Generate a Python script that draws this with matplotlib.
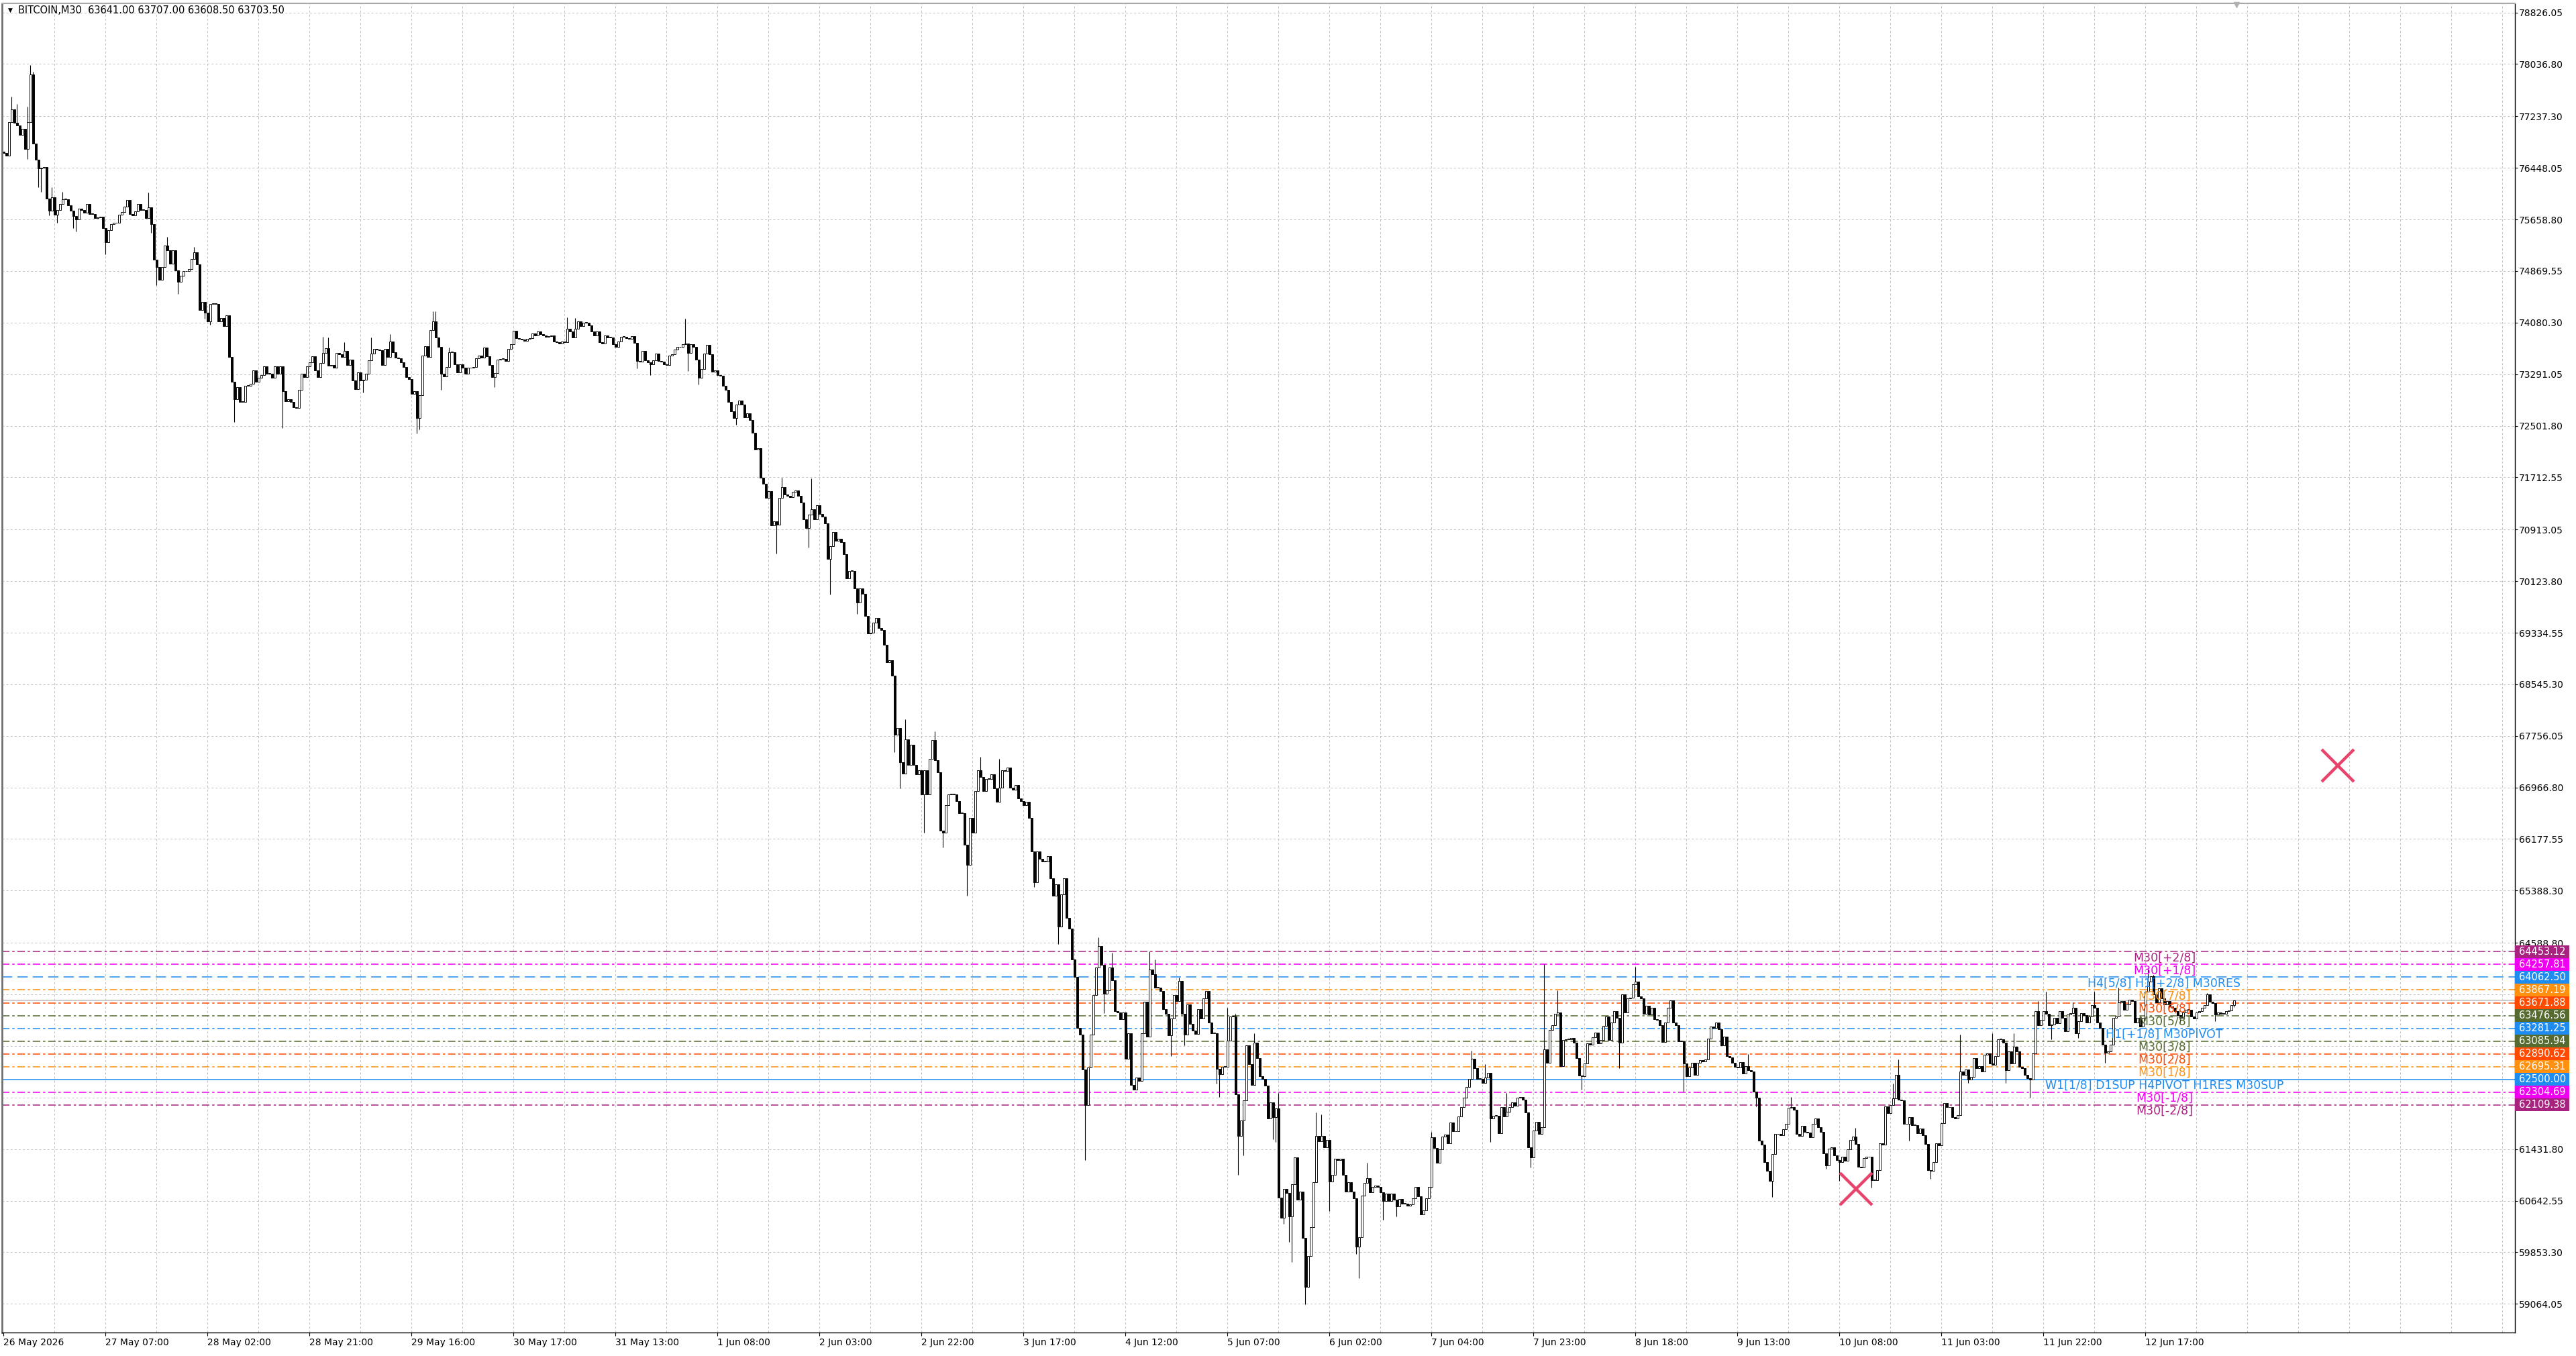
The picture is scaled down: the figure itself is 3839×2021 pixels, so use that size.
import numpy as np
import matplotlib
matplotlib.use("Agg")
import matplotlib.pyplot as plt
from matplotlib.patches import Rectangle
import matplotlib.transforms as mtransforms

plt.rcParams['font.family'] = ['DejaVu Sans']
plt.rcParams['lines.scale_dashes'] = False

# ---------------- data ----------------
symbol_header = "BITCOIN,M30  63641.00 63707.00 63608.50 63703.50"

first_open = 76700.0
closes = [
 76680,76640,77145,77347,77137,77100,76950,77043,76740,77145,77875,76820,76577,76435,76450,76460,
 75977,75795,75997,75735,75807,75896,75969,75969,75875,75795,75706,75657,75827,75807,75760,75896,
 75746,75742,75677,75693,75705,75531,75313,75491,75584,75612,75604,75734,75775,75856,75961,75746,
 75718,75787,75896,75807,75807,75677,75840,75584,75045,74935,74740,74935,75260,75187,74984,75187,
 74883,74704,74793,74866,74866,74895,75057,75159,74976,74275,74397,74234,74104,74368,74368,74368,
 74096,74152,74023,74193,73557,73180,72908,73091,72868,72868,73111,73111,73140,73354,73172,73233,
 73273,73415,73302,73302,73233,73415,73300,73415,73030,72880,72908,72868,72787,72775,73050,73302,
 73245,73415,73476,73570,73354,73245,73464,73618,73691,73424,73436,73395,73618,73600,73557,73650,
 73436,73517,73200,73059,73314,73193,
 73205,73300,73499,73608,73677,73670,73660,73435,73677,73557,73796,73625,73540,73533,73471,73396,
 73249,73215,72986,73027,72623,72966,73574,73721,73557,73961,74094,73854,73704,73294,73260,73396,
 73625,73625,73444,73317,73437,73386,73294,73386,73386,73403,73533,73574,73547,73694,73567,73430,
 73249,73307,73512,73523,73523,73489,73677,73745,73957,73841,73830,73820,73806,73830,73841,73916,
 73882,73943,73899,73882,73865,73875,73882,73796,73779,73762,73786,73779,73991,73943,73854,73984,
 74104,74026,74080,74080,74036,73943,73882,73943,73779,73762,73882,73854,73854,73752,73704,73796,
 73865,73865,73841,73830,73875,73772,73489,73480,73649,73506,73470,73437,73506,73608,73489,73478,
 73437,73430,73574,73591,73670,73704,73704,73752,73762,73615,73745,73704,73513,73232,73369,73608,
 73738,73591,73328,73352,73273,73266,73112,73054,72863,72719,72623,72822,72890,72829,72634,72692,
 72589,72394,72138,72155,71710,71618,71403,71505,70982,71037,70992,
 71398,71560,71445,71425,71412,71493,71513,71425,71331,71075,70940,71142,71223,71075,71290,71156,
 71108,71007,70468,70657,70873,70738,70771,70724,70536,70165,70279,70279,70010,69794,70010,69929,
 69592,69322,69335,69490,69558,69403,69376,69154,68884,68918,68682,67772,67872,67353,67179,67704,
 67313,67623,67313,67165,67233,66862,67233,66862,67401,67691,67380,67199,66303,66276,66694,66862,
 66862,66862,66761,66572,66572,66087,65784,66505,66276,66910,67233,67132,66910,67098,67098,67165,
 66950,66748,66963,67233,67220,67266,66963,66930,67003,66795,66761,66694,66748,66505,65986,65514,
 65986,65871,65831,65831,65918,65581,65312,65480,64840,65332,65581,64974,64806,64334,64065,63290,
 63189,62650,62111,62684,63189,63795,64213,64536,64253,63808,63862,64213,64011,63539,63520,63425,
 63526,62818,63202,62414,62347,
 62527,62472,63206,63683,63151,64178,64105,63903,63903,63848,63573,63499,63169,63426,63785,63701,
 64006,63499,63187,63646,63353,63243,63198,63573,63426,63738,63848,63371,63206,63206,62656,62582,
 62692,62692,63096,63463,63463,62271,61629,61867,62179,63022,62729,62417,63059,62821,62546,62509,
 62399,61904,62142,61922,62050,60693,60381,60821,60766,60399,60894,61305,60656,60784,60070,59325,
 59795,60235,60924,61636,61555,61636,61463,61573,60932,61042,61280,61262,61280,61042,60784,60924,
 60784,60675,59941,60088,60719,60913,60987,60767,60850,60877,60858,60767,60638,60748,60638,60748,
 60656,60557,60667,60601,60601,60565,60583,60682,60858,60711,60436,60498,60682,60858,61610,61445,
 61225,61427,61621,61658,61519,61841,61702,61702,61929,62076,62216,62380,62502,62810,62674,62509,
 62509,62443,62527,62601,61904,61940,61940,
 61678,62072,61935,62004,62072,62148,62100,62216,62226,62192,61997,61462,61301,61712,61850,61661,
 61771,62963,62751,63254,63333,63504,63518,62706,63100,63117,63117,63134,63066,62826,62559,62552,
 62740,63049,63032,63141,63220,63049,63100,63313,63460,63100,63374,63539,63443,63066,63802,63528,
 63734,63751,63956,63991,63768,63740,63504,63621,63494,63597,63425,63415,63323,63073,63367,63597,
 63710,63367,63333,63083,63083,62740,62552,62682,62757,62569,62757,62792,62774,62809,63127,63306,
 63289,63374,63271,63025,63152,62860,62833,62757,62689,62682,62764,62586,62706,62638,62620,62312,
 62216,61558,61497,61233,61096,60942,61353,61661,61661,61644,61736,61815,62065,62079,62038,61668,
 61634,61791,61695,61680,61610,61815,61901,61771,61695,61370,61181,61438,61455,61335,61267,61233,
 61318,61250,61428,61575,61627,61507,61164,
 61147,61291,61312,61318,60959,60959,61113,61524,61500,62090,61985,62106,62209,62569,62192,62175,
 61815,61815,61918,61798,61800,61678,61747,61644,61507,61113,61096,61233,61524,61490,61832,62141,
 62072,62072,61918,61901,61952,62620,62569,62655,62500,62535,62826,62672,62706,62620,62877,62894,
 62740,62723,62860,63117,63117,63066,62638,62929,62740,63004,62929,62689,62672,62569,62520,62500,
 62894,63546,63323,63408,63539,63504,63323,63340,63443,63357,63539,63443,63237,63494,63511,63597,
 63203,63391,63511,63477,63374,63460,63631,63597,63374,63288,63031,62912,62929,63031,63443,63460,
 63682,63700,63563,63648,63717,63700,63374,63443,63306,63443,63837,63991,64076,63802,63682,63888,
 63734,63648,63700,63614,63597,63539,63477,63443,63528,63563,63563,63460,63426,63518,63539,63597,
 63641,63802,63689,63665,63494,63518,63504,63504,63539,63552,63641,63703.5,
]

wick_highs = {3: 77542, 5: 77429, 9: 77388, 10: 78017, 11: 77915, 18: 76152, 22: 76078, 54: 76070,
              61: 75394, 71: 75240, 119: 73861, 121: 73850, 127: 73780, 137: 73848, 144: 73900,
              160: 74251, 161: 74251, 166: 73700, 210: 74162, 213: 74150, 254: 74138, 290: 71710,
              301: 71695, 336: 68008, 347: 67826, 364: 67435, 371: 67400, 408: 64672, 413: 64436,
              427: 64453, 429: 64336, 438: 64057, 456: 63591, 459: 63499, 466: 63206, 475: 62289,
              489: 61989, 491: 61959, 508: 61225, 532: 61700, 547: 62942, 552: 62736, 560: 62289,
              574: 64258, 579: 63861, 608: 64224, 650: 62888, 666: 62226, 690: 61757, 704: 62432,
              706: 62809, 729: 63186, 741: 63203, 749: 63200, 758: 63700, 761: 63837, 771: 63682,
              779: 63837, 788: 63905, 799: 64196, 801: 64094, 821: 63820, 831: 63707}
wick_lows = {9: 76585, 13: 76152, 14: 76082, 17: 75718, 20: 75612, 26: 75531, 27: 75474, 38: 75126,
             55: 75450, 57: 74652, 65: 74518, 75: 74145, 77: 74043, 86: 72555, 104: 72462, 134: 73010,
             154: 72384, 155: 72450, 163: 73054, 183: 73089, 236: 73376, 241: 73273, 255: 73335,
             259: 73130, 273: 72514, 286: 71266, 288: 70547, 300: 70637, 308: 69915, 318: 69626,
             332: 67503, 334: 66950, 343: 66276, 350: 66054, 359: 65312, 384: 65447, 393: 64570,
             403: 61268, 410: 63513, 435: 62857, 440: 63023, 452: 62436, 453: 62234, 460: 61042,
             462: 61335, 473: 61585, 474: 61537, 477: 60290, 479: 60007, 480: 59703, 485: 59061,
             494: 60484, 504: 59831, 505: 59457, 514: 60352, 519: 60400, 554: 61537, 569: 61147,
             588: 62339, 602: 62672, 626: 62312, 653: 62089, 657: 61106, 659: 60702, 679: 61130,
             684: 60942, 696: 60839, 710: 61558, 718: 60976, 732: 62449, 746: 62449, 755: 62216,
             763: 63117, 773: 63134, 783: 62757, 811: 63374, 824: 63391, 831: 63608.5}

time_labels = ["26 May 2026", "27 May 07:00", "28 May 02:00", "28 May 21:00", "29 May 16:00",
               "30 May 17:00", "31 May 13:00", "1 Jun 08:00", "2 Jun 03:00", "2 Jun 22:00",
               "3 Jun 17:00", "4 Jun 12:00", "5 Jun 07:00", "6 Jun 02:00", "7 Jun 04:00",
               "7 Jun 23:00", "8 Jun 18:00", "9 Jun 13:00", "10 Jun 08:00", "11 Jun 03:00",
               "11 Jun 22:00", "12 Jun 17:00"]
bars_per_label = 38
bars_per_grid = 19

price_ticks = [78826.05, 78036.80, 77237.30, 76448.05, 75658.80, 74869.55, 74080.30, 73291.05,
               72501.80, 71712.55, 70913.05, 70123.80, 69334.55, 68545.30, 67756.05, 66966.80,
               66177.55, 65388.30, 64588.80, 63799.55, 63010.30, 62221.05, 61431.80, 60642.55,
               59853.30, 59064.05]

levels = [64453.12, 64257.81, 64062.50, 63867.19, 63671.88, 63476.56, 63281.25, 63085.94,
          62890.62, 62695.31, 62500.00, 62304.69, 62109.38]
level_names = ["M30[+2/8]", "M30[+1/8]", "H4[5/8] H1[+2/8] M30RES", "M30[7/8]", "M30[6/8]",
               "M30[5/8]", "H1[+1/8] M30PIVOT", "M30[3/8]", "M30[2/8]", "M30[1/8]",
               "W1[1/8] D1SUP H4PIVOT H1RES M30SUP", "M30[-1/8]", "M30[-2/8]"]
level_colors = ["#A8237F", "#F000F0", "#1E8CF0", "#FF9010", "#FF4A00", "#556B2F", "#1E8CF0",
                "#556B2F", "#FF4A00", "#FF9010", "#1E8CF0", "#F000F0", "#A8237F"]
level_kinds = ["dashdot", "dashdot", "dash", "dashdot", "dashdot", "dashdot", "dashdot",
               "dashdot", "dashdot", "dashdot", "solid", "dashdot", "dashdot"]
level_label_bar = 805

current_price = 63703.50
cross_marks_x = [869.7, 690.2]
cross_marks_y = [67300.0, 60820.0]
shift_marker_bar = 832

# ---------------- figure ----------------
W, H, DPI = 3839, 2021, 100
fig = plt.figure(figsize=(W / DPI, H / DPI), dpi=DPI, facecolor="white")
left_px, right_px, top_px, bottom_px = 3, 3748, 5, 1986
ax = fig.add_axes([left_px / W, 1 - bottom_px / H, (right_px - left_px) / W, (bottom_px - top_px) / H])
ax.set_facecolor("white")

n = len(closes)
x = np.arange(n)
c = np.array(closes, dtype=float)
o = np.concatenate([[first_open], c[:-1]])
hi = np.maximum(o, c)
lo = np.minimum(o, c)
for k, v in wick_highs.items():
    hi[k] = max(hi[k], v)
for k, v in wick_lows.items():
    lo[k] = min(lo[k], v)

x0 = -0.6
ax.set_xlim(x0, x0 + (right_px - left_px) / 4.0)
ax.set_ylim(58625.2, 78966.0)

# grid
grid_kw = dict(color="#C4C4C4", lw=0.75, ls=(0, (2.2, 2.2)), zorder=0.5)
for p in price_ticks:
    ax.axhline(p, **grid_kw)
gx = bars_per_grid
while gx < ax.get_xlim()[1]:
    ax.axvline(gx, **grid_kw)
    gx += bars_per_grid

# level lines
styles = {"dashdot": (0, (8, 3, 2.5, 3)), "dash": (0, (11, 5.5)), "solid": "-"}
for p, col, kind in zip(levels, level_colors, level_kinds):
    ax.axhline(p, color=col, lw=1.1, ls=styles[kind], zorder=1.5)
ax.axhline(current_price, color="#BDBDBD", lw=1.1, zorder=1.4)

# candles
ax.vlines(x, lo, hi, color="black", lw=0.8, zorder=2)
bull = c >= o
body_h = np.maximum(np.abs(c - o), 8.0)
ax.bar(x[bull], body_h[bull], bottom=o[bull], width=0.66, color="white", edgecolor="black",
       linewidth=0.65, zorder=2.1)
ax.bar(x[~bull], body_h[~bull], bottom=c[~bull], width=0.66, color="black", edgecolor="black",
       linewidth=0.65, zorder=2.1)

# level texts
for p, col, name in zip(levels, level_colors, level_names):
    ax.text(level_label_bar, p, name, color=col, fontsize=12.5, ha="center", va="top", zorder=3)

# cross marks
ax.plot(cross_marks_x, cross_marks_y, ls="none", marker="x", markersize=34, mew=3.2,
        color="#E8436B", zorder=4)

# shift marker
trans_xa = mtransforms.blended_transform_factory(ax.transData, ax.transAxes)
ax.plot([shift_marker_bar], [0.999], marker="v", markersize=6, color="#B0B0B0",
        transform=trans_xa, clip_on=False, zorder=5)

# axes / ticks
ax.yaxis.tick_right()
ax.set_yticks(price_ticks)
ax.set_yticklabels([f"{p:.2f}" for p in price_ticks])
ax.tick_params(axis="y", which="both", direction="out", length=3, width=0.8, pad=1.5,
               labelsize=10, colors="black")
ax.set_xticks([bars_per_label * i for i in range(len(time_labels))])
ax.set_xticklabels(time_labels)
for lbl in ax.get_xticklabels():
    lbl.set_horizontalalignment("left")
ax.tick_params(axis="x", direction="out", length=3.5, width=0.8, pad=2, labelsize=10,
               colors="black")
for side in ["right", "bottom"]:
    ax.spines[side].set_color("black")
    ax.spines[side].set_linewidth(1.0)
ax.spines["left"].set_color("#707070")
ax.spines["left"].set_linewidth(2.0)
ax.spines["top"].set_color("#A8A8A8")
ax.spines["top"].set_linewidth(1.5)

# colored price boxes on the right
trans_ay = mtransforms.blended_transform_factory(ax.transAxes, ax.transData)
box_w = (3829 - right_px) / (right_px - left_px)
step = levels[0] - levels[1]
for p, col in zip(levels, level_colors):
    ax.add_patch(Rectangle((1.0, p - step / 2), box_w, step, transform=trans_ay,
                           facecolor=col, edgecolor="none", clip_on=False, zorder=6))
    ax.text(1.0017, p, f"{p:.2f}", transform=trans_ay, color="white", fontsize=10.5,
            ha="left", va="center", clip_on=False, zorder=7)

# header
fig.text(15 / W, 1 - 15 / H, "\u25BC", fontsize=6.5, ha="center", va="center", color="black")
fig.text(27 / W, 1 - 15 / H, symbol_header, fontsize=10.5, ha="left", va="center", color="black")

fig.savefig("out.png", dpi=DPI, facecolor="white")
